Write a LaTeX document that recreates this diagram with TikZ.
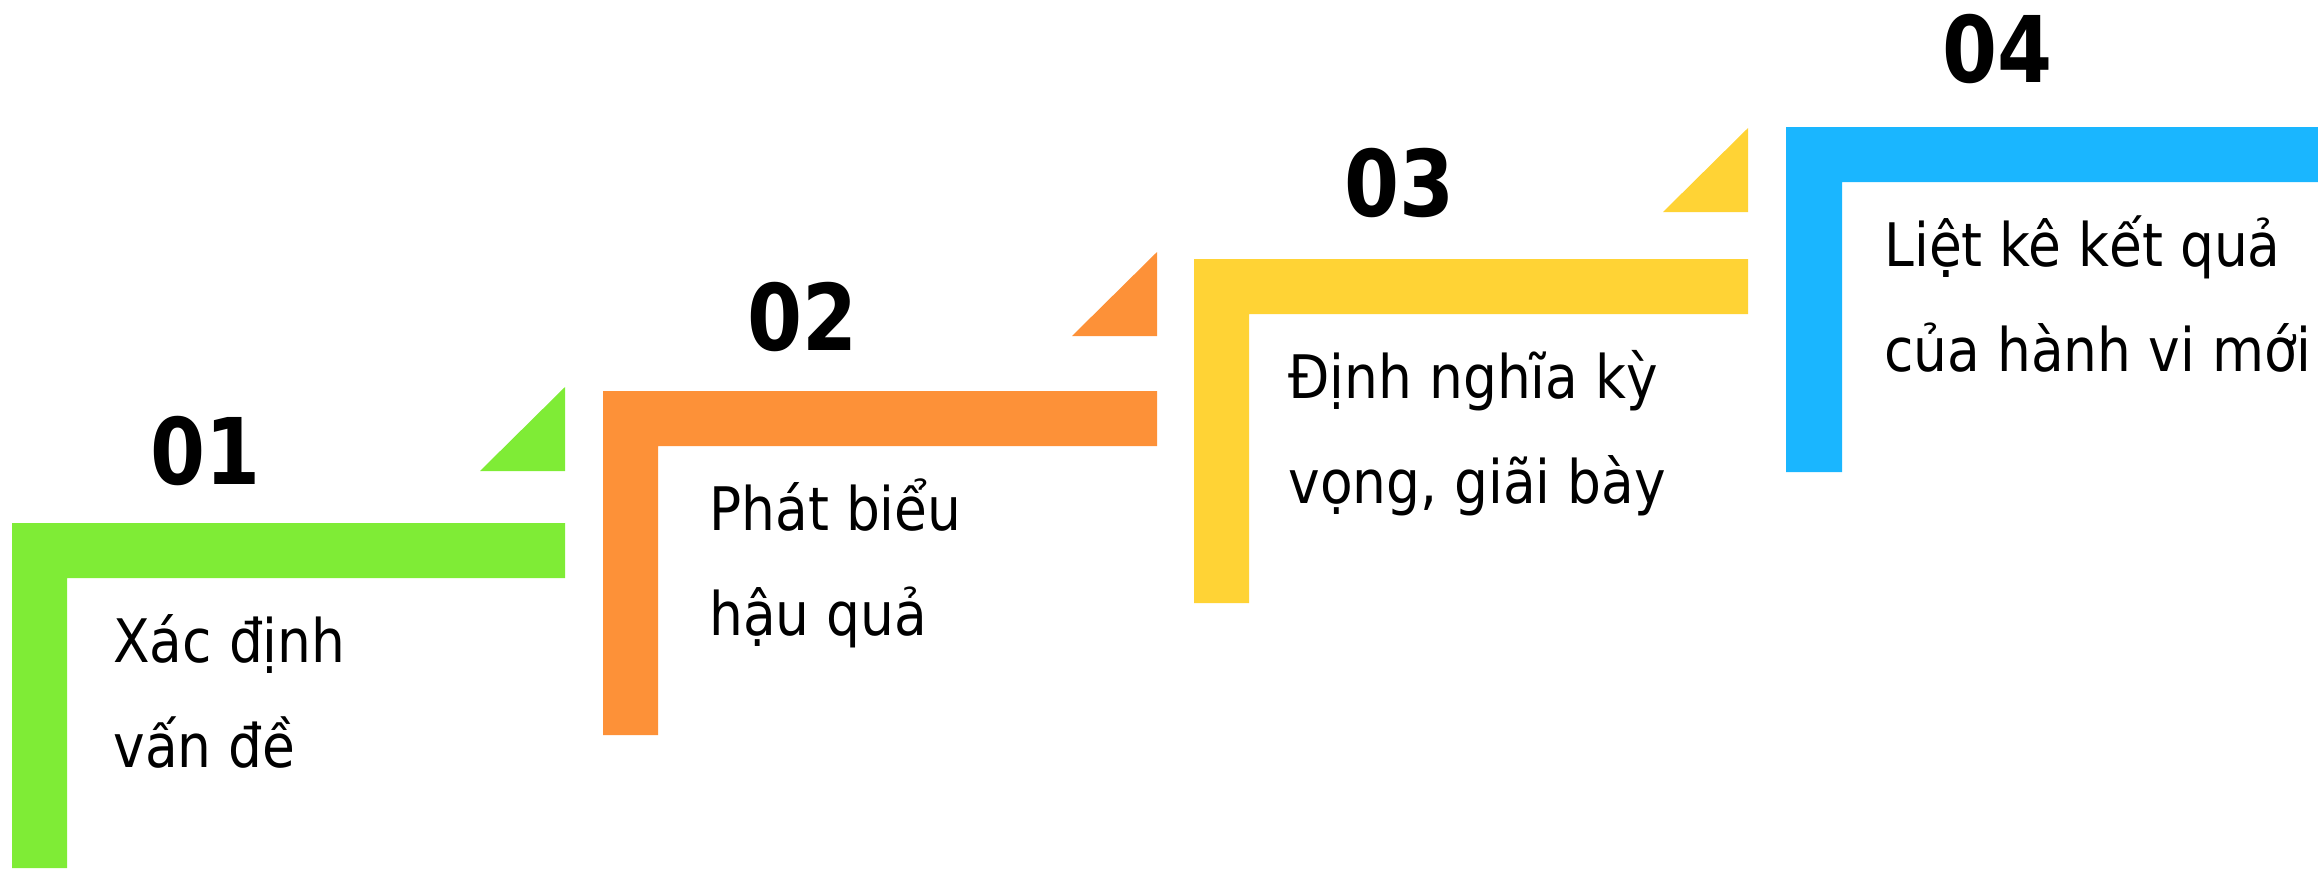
\documentclass[tikz,border=0pt]{standalone}
\usepackage{fontspec}
\newfontfamily\txtfont{DejaVu Sans}[FakeStretch=0.89]
\newfontfamily\numfont{DejaVu Sans}[FakeStretch=0.86]
\definecolor{cgreen}{RGB}{127,236,54}
\definecolor{corange}{RGB}{253,145,56}
\definecolor{cyellow}{RGB}{255,211,53}
\definecolor{cblue}{RGB}{26,182,255}
\tikzset{
  numlabel/.style={anchor=base west, inner sep=0pt, font=\numfont\bfseries\fontsize{46}{50}\selectfont, text=black},
  txtlabel/.style={anchor=base west, inner sep=0pt, font=\txtfont\fontsize{30}{34}\selectfont, text=black}
}
\begin{document}
\begin{tikzpicture}[x=0.5pt,y=-0.5pt]
\useasboundingbox (0,0) rectangle (2318,868);
\clip (0,0) rectangle (2318,868);
% step 1
\fill[cgreen] (12,868) -- (12,523) -- (565,523) -- (565,578) -- (67,578) -- (67,868) -- cycle;
\fill[cgreen] (480,471) -- (565,387) -- (565,471) -- cycle;
\node[numlabel] (n1) at (150,484) {01};
\node[txtlabel] (t1a) at (113,662) {Xác định};
\node[txtlabel] (t1b) at (113,767) {vấn đề};
% step 2
\fill[corange] (603,735) -- (603,391) -- (1157,391) -- (1157,446) -- (658,446) -- (658,735) -- cycle;
\fill[corange] (1072,336) -- (1157,252) -- (1157,336) -- cycle;
\node[numlabel] (n2) at (747,350) {02};
\node[txtlabel] (t2a) at (709,530) {Phát biểu};
\node[txtlabel] (t2b) at (709,635) {hậu quả};
% step 3
\fill[cyellow] (1194,603) -- (1194,259) -- (1748,259) -- (1748,314) -- (1249,314) -- (1249,603) -- cycle;
\fill[cyellow] (1663,212) -- (1748,128) -- (1748,212) -- cycle;
\node[numlabel] (n3) at (1344,216) {03};
\node[txtlabel] (t3a) at (1288,398) {Định nghĩa kỳ};
\node[txtlabel] (t3b) at (1288,503) {vọng, giãi bày};
% step 4
\fill[cblue] (1786,472) -- (1786,127) -- (2400,127) -- (2400,182) -- (1842,182) -- (1842,472) -- cycle;
\node[numlabel] (n4) at (1942,82) {04};
\node[txtlabel] (t4a) at (1884,266) {Liệt kê kết quả};
\node[txtlabel] (t4b) at (1884,371) {của hành vi mới};
\end{tikzpicture}
\end{document}
